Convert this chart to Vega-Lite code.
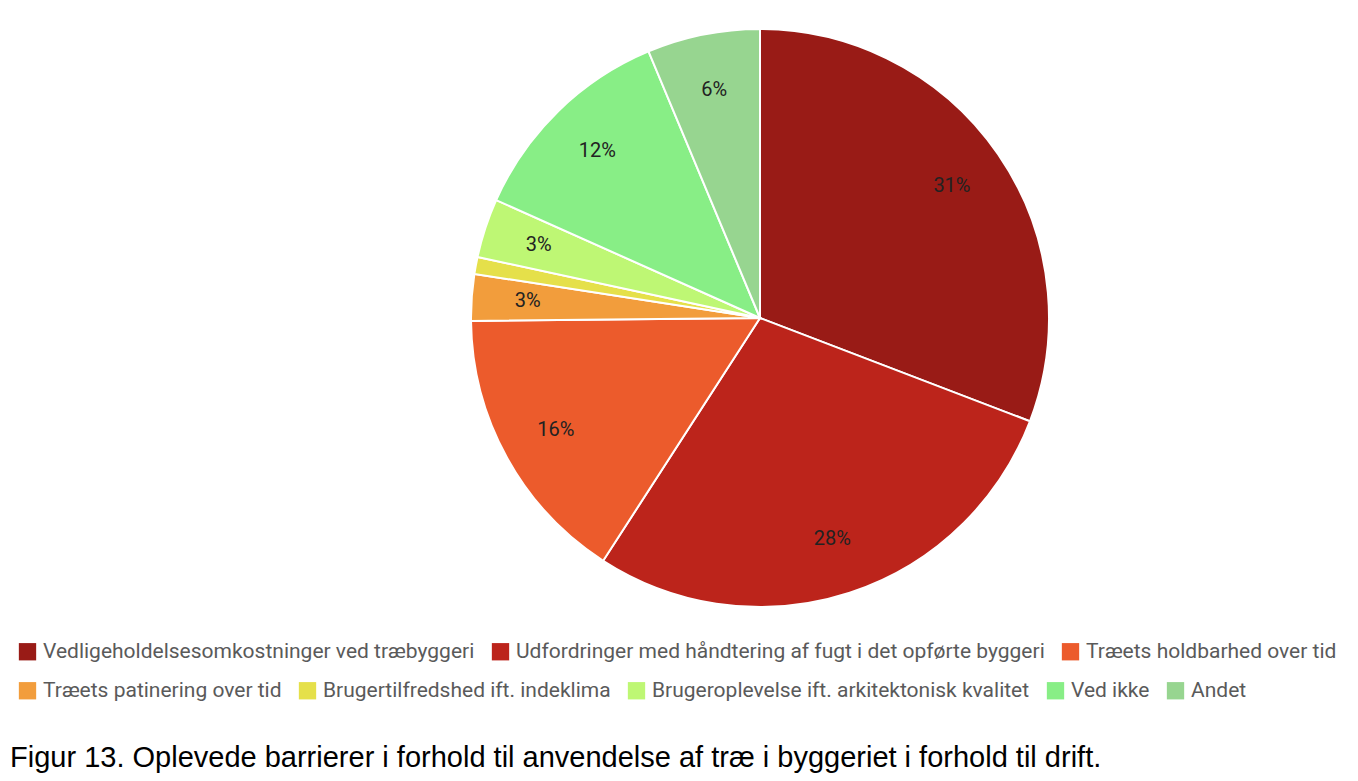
{
  "$schema": "https://vega.github.io/schema/vega-lite/v6.json",
  "width": 1196,
  "height": 580,
  "autosize": {"type": "none"},
  "padding": {"left": 162, "top": 28, "right": 0, "bottom": 173},
  "background": "white",
  "config": {"view": {"stroke": null}},
  "title": {
    "text": "Figur 13. Oplevede barrierer i forhold til anvendelse af træ i byggeriet i forhold til drift.",
    "orient": "bottom",
    "anchor": "start",
    "frame": "group",
    "dx": -152,
    "offset": 43,
    "font": "Liberation Sans",
    "fontSize": 29,
    "fontWeight": "normal",
    "color": "#000000"
  },
  "data": {
    "values": [
      {"kategori": "Vedligeholdelsesomkostninger ved træbyggeri", "andel": 30.8, "orden": 1, "etiket": "31%"},
      {"kategori": "Udfordringer med håndtering af fugt i det opførte byggeri", "andel": 28.3, "orden": 2, "etiket": "28%"},
      {"kategori": "Træets holdbarhed over tid", "andel": 15.7, "orden": 3, "etiket": "16%"},
      {"kategori": "Træets patinering over tid", "andel": 2.6, "orden": 4, "etiket": "3%"},
      {"kategori": "Brugertilfredshed ift. indeklima", "andel": 0.95, "orden": 5, "etiket": ""},
      {"kategori": "Brugeroplevelse ift. arkitektonisk kvalitet", "andel": 3.3, "orden": 6, "etiket": "3%"},
      {"kategori": "Ved ikke", "andel": 12.0, "orden": 7, "etiket": "12%"},
      {"kategori": "Andet", "andel": 6.3, "orden": 8, "etiket": "6%"}
    ]
  },
  "layer": [
    {
      "mark": {"type": "arc", "radius": 289, "stroke": "white", "strokeWidth": 2},
      "encoding": {
        "theta": {"field": "andel", "type": "quantitative", "stack": true},
        "order": {"field": "orden", "type": "quantitative"},
        "color": {
          "field": "kategori",
          "type": "nominal",
          "scale": {
            "domain": ["Vedligeholdelsesomkostninger ved træbyggeri", "Udfordringer med håndtering af fugt i det opførte byggeri", "Træets holdbarhed over tid", "Træets patinering over tid", "Brugertilfredshed ift. indeklima", "Brugeroplevelse ift. arkitektonisk kvalitet", "Ved ikke", "Andet"],
            "range": ["#991b16", "#bc241b", "#ec5b2c", "#f29d3c", "#e5e04a", "#bef774", "#88ee86", "#97d590"]
          },
          "legend": {
            "values": ["Vedligeholdelsesomkostninger ved træbyggeri", "Udfordringer med håndtering af fugt i det opførte byggeri", "Træets holdbarhed over tid"],
            "orient": "none",
            "legendX": -145,
            "legendY": 613,
            "direction": "horizontal",
            "title": null,
            "padding": 0,
            "symbolType": "square",
            "symbolSize": 300,
            "symbolStrokeWidth": 0,
            "labelFont": "Roboto",
            "labelFontSize": 21,
            "labelColor": "#5a5a5a",
            "labelOffset": 5,
            "labelLimit": 0,
            "columnPadding": 15
          }
        }
      }
    },
    {
      "mark": {"type": "arc", "radius": 289, "stroke": "white", "strokeWidth": 2},
      "encoding": {
        "theta": {"field": "andel", "type": "quantitative", "stack": true},
        "order": {"field": "orden", "type": "quantitative"},
        "color": {
          "field": "kategori",
          "type": "nominal",
          "scale": {
            "domain": ["Vedligeholdelsesomkostninger ved træbyggeri", "Udfordringer med håndtering af fugt i det opførte byggeri", "Træets holdbarhed over tid", "Træets patinering over tid", "Brugertilfredshed ift. indeklima", "Brugeroplevelse ift. arkitektonisk kvalitet", "Ved ikke", "Andet"],
            "range": ["#991b16", "#bc241b", "#ec5b2c", "#f29d3c", "#e5e04a", "#bef774", "#88ee86", "#97d590"]
          },
          "legend": {
            "values": ["Træets patinering over tid", "Brugertilfredshed ift. indeklima", "Brugeroplevelse ift. arkitektonisk kvalitet", "Ved ikke", "Andet"],
            "orient": "none",
            "legendX": -145,
            "legendY": 652,
            "direction": "horizontal",
            "title": null,
            "padding": 0,
            "symbolType": "square",
            "symbolSize": 300,
            "symbolStrokeWidth": 0,
            "labelFont": "Roboto",
            "labelFontSize": 21,
            "labelColor": "#5a5a5a",
            "labelOffset": 5,
            "labelLimit": 0,
            "columnPadding": 15
          }
        }
      }
    },
    {
      "mark": {"type": "text", "radius": 233, "font": "Roboto", "fontSize": 20, "color": "#222222", "align": "center", "baseline": "middle"},
      "encoding": {
        "theta": {"field": "andel", "type": "quantitative", "stack": true},
        "order": {"field": "orden", "type": "quantitative"},
        "detail": {"field": "kategori", "type": "nominal"},
        "text": {"field": "etiket", "type": "nominal"}
      }
    }
  ],
  "resolve": {"scale": {"color": "independent"}}
}
